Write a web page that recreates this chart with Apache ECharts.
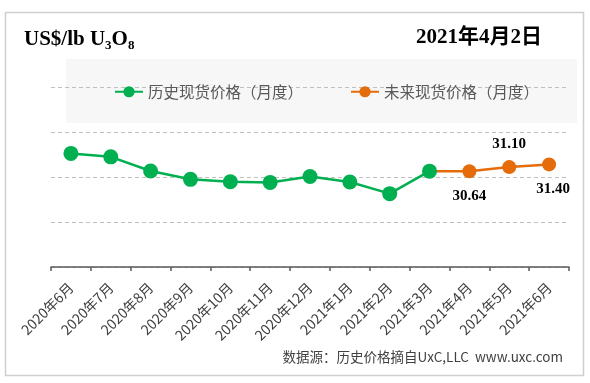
<!DOCTYPE html>
<html>
<head>
<meta charset="utf-8">
<script src="https://cdn.jsdelivr.net/npm/echarts@6/dist/echarts.min.js"></script>
<style>
html,body{margin:0;padding:0;background:#fff;}
#c{width:590px;height:383px;}
</style>
</head>
<body>
<div id="c"></div>
<script>
var categories = ['2020年6月','2020年7月','2020年8月','2020年9月','2020年10月','2020年11月','2020年12月','2021年1月','2021年2月','2021年3月','2021年4月','2021年5月','2021年6月'];
var historyValues = [32.62, 32.24, 30.67, 29.74, 29.48, 29.40, 30.05, 29.45, 28.15, 30.65, null, null, null];
var futureValues = [null, null, null, null, null, null, null, null, null, 30.65, 30.64, 31.10, 31.40];
var futureLabelPos = [null, null, null, null, null, null, null, null, null, null, 'bottom', 'top', 'bottom'];
var historyName = '历史现货价格（月度）';
var futureName = '未来现货价格（月度）';
var unitTitle = '{a|US$/lb U}{b|3}{a|O}{b|8}';
var dateTitle = '2021年4月2日';
var sourceText = '数据源：历史价格摘自UxC,LLC  www.uxc.com';

var GREEN = '#00b050', ORANGE = '#e46c0a';
var serif = '"Liberation Serif", "Noto Sans CJK SC", serif';
var cjk = '"Noto Sans CJK SC", sans-serif';

var chart = echarts.init(document.getElementById('c'));

var futureData = futureValues.map(function (v, i) {
  if (v === null) return '-';
  if (i === 9) return { value: v, symbol: 'none', label: { show: false } };
  var pos = futureLabelPos[i];
  return { value: v, label: { show: true, position: pos, distance: pos === 'top' ? 8 : 10, offset: i === 12 ? [4, 0] : [0, 0] } };
});
var historyData = historyValues.map(function (v) { return v === null ? '-' : v; });

chart.setOption({
  animation: false,
  title: [
    { text: unitTitle, left: 19, top: 23,
      textStyle: { rich: {
        a: { fontFamily: serif, fontWeight: 'bold', fontSize: 21, color: '#000', lineHeight: 24 },
        b: { fontFamily: serif, fontWeight: 'bold', fontSize: 13, color: '#000', lineHeight: 24, verticalAlign: 'bottom', padding: [11, 0, 0, 0] }
      } } },
    { text: dateTitle, right: 43, top: 22,
      textStyle: { fontFamily: serif, fontWeight: 'bold', fontSize: 21, color: '#000' } }
  ],
  graphic: [
    { type: 'rect', z: -10, silent: true, shape: { x: 5.5, y: 12.5, width: 578, height: 363 },
      style: { fill: '#fff', stroke: '#cfcfcf', lineWidth: 1.5 } },
    { type: 'rect', z: -5, silent: true, shape: { x: 66, y: 59, width: 511, height: 64 },
      style: { fill: '#f7f7f7' } },
    { type: 'text', x: 563, y: 357, silent: true,
      style: { text: sourceText, align: 'right', verticalAlign: 'middle', fill: '#404040', font: '13.5px ' + cjk } }
  ],
  legend: {
    left: 109, top: 79,
    itemWidth: 28, itemHeight: 14, itemGap: 47,
    textStyle: { fontFamily: cjk, fontSize: 15.5, color: '#595959' },
    data: [historyName, futureName]
  },
  grid: { left: 51, right: 21, top: 87, bottom: 116, containLabel: false },
  xAxis: {
    type: 'category', data: categories, boundaryGap: true,
    axisLine: { lineStyle: { color: '#595959', width: 1.5 } },
    axisTick: { show: true, length: 4, lineStyle: { color: '#595959', width: 1.5 } },
    axisLabel: { rotate: 45, margin: 18, interval: 0, fontFamily: cjk, fontSize: 14, color: '#404040' }
  },
  yAxis: {
    type: 'value', min: 20, max: 40, interval: 5,
    axisLine: { show: false }, axisTick: { show: false }, axisLabel: { show: false },
    splitLine: { show: true, lineStyle: { color: '#bfbfbf', width: 1, type: [4, 3] } }
  },
  series: [
    { name: historyName, type: 'line', z: 3, data: historyData,
      symbol: 'circle', symbolSize: 15, connectNulls: false,
      lineStyle: { color: GREEN, width: 2.5 }, itemStyle: { color: GREEN } },
    { name: futureName, type: 'line', z: 2, data: futureData,
      symbol: 'circle', symbolSize: 14,
      lineStyle: { color: ORANGE, width: 2.5 }, itemStyle: { color: ORANGE },
      label: { fontFamily: serif, fontWeight: 'bold', fontSize: 15, color: '#000',
        formatter: function (p) { return Number(p.value).toFixed(2); } } }
  ]
});
</script>
</body>
</html>
